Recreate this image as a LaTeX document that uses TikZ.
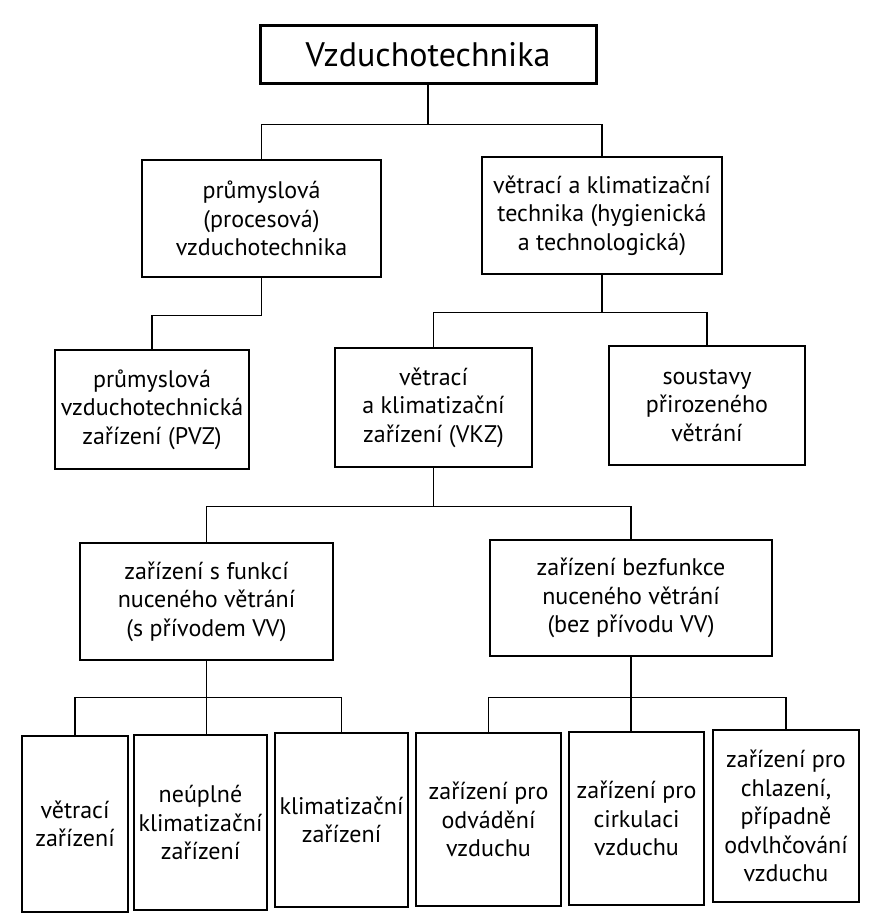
\documentclass[tikz,border=0pt]{standalone}
\usepackage{fontspec}
\setmainfont{PT Sans}

\begin{document}
\begin{tikzpicture}[
    x=0.5pt, y=-0.5pt,
    font=\fontsize{12}{14.25}\selectfont,
    box/.style={draw, semithick, align=center, inner sep=2pt},
    boxsize/.style 2 args={minimum width=#1*0.5pt, minimum height=#2*0.5pt},
    rootbox/.style={box, line width=1.5pt, font=\fontsize{17}{20}\selectfont},
    link/.style={line width=0.7pt}
  ]

\useasboundingbox (0,0) rectangle (885,924);

% --- Root ---
    \node[rootbox, boxsize={336}{58}] (root) at (428,55) {Vzduchotechnika};

% --- Level 1 ---
    \node[box, boxsize={239}{117}] (proc) at (261.5,218.5)
      {průmyslová\\(procesová)\\vzduchotechnika};
    \node[box, boxsize={240}{117}] (vkt) at (602,215.5)
      {větrací a klimatizační\\technika (hygienická\\a technologická)};

% --- Level 2 ---
    \node[box, boxsize={194}{119}] (pvz) at (152,409.5)
      {průmyslová\\vzduchotechnická\\zařízení (PVZ)};
    \node[box, boxsize={197}{119}] (vkz) at (433.5,407.5)
      {větrací\\a klimatizační\\zařízení (VKZ)};
    \node[box, boxsize={196}{119}] (pri) at (707,405.5)
      {soustavy\\přirozeného\\větrání};

% --- Level 3 ---
    \node[box, boxsize={253}{117}] (sf) at (206.5,601.5)
      {zařízení s funkcí\\nuceného větrání\\(s přívodem VV)};
    \node[box, boxsize={282}{116}] (bf) at (631,598)
      {zařízení bezfunkce\\nuceného větrání\\(bez přívodu VV)};

% --- Level 4 ---
    \node[box, boxsize={106}{176}] (vz) at (75,824) {větrací\\zařízení};
    \node[box, boxsize={133}{175}] (nk) at (200.5,822.5) {neúplné\\klimatizační\\zařízení};
    \node[box, boxsize={133}{174}] (kz) at (341.5,820) {klimatizační\\zařízení};
    \node[box, boxsize={145}{173}] (od) at (488.5,819.5) {zařízení pro\\odvádění\\vzduchu};
    \node[box, boxsize={135}{173}] (ci) at (636.5,818.5) {zařízení pro\\cirkulaci\\vzduchu};
    \node[box, boxsize={146}{172}] (ch) at (786,816)
      {zařízení pro\\chlazení,\\případně\\odvlhčování\\vzduchu};

% --- Connectors ---
    \draw[link] (root.south) -- ++(0,39) -| (proc.north);
    \draw[link] (root.south) -- ++(0,39) -| (vkt.north);

    \draw[link] (proc.south) -- ++(0,38) -| (pvz.north);

    \draw[link] (vkt.south) -- ++(0,38) -| (vkz.north);
    \draw[link] (vkt.south) -- ++(0,38) -| (pri.north);

    \draw[link] (vkz.south) -- ++(0,39) -| (sf.north);
    \draw[link] (vkz.south) -- ++(0,39) -| (bf.north);

    \draw[link] (sf.south) -- ++(0,37) -| (vz.north);
    \draw[link] (sf.south) -- (sf.south |- nk.north);
    \draw[link] (sf.south) -- ++(0,37) -| (kz.north);

    \draw[link] (bf.south) -- ++(0,41) -| (od.north);
    \draw[link] (bf.south) -- (bf.south |- ci.north);
    \draw[link] (bf.south) -- ++(0,41) -| (ch.north);

\end{tikzpicture}
\end{document}
